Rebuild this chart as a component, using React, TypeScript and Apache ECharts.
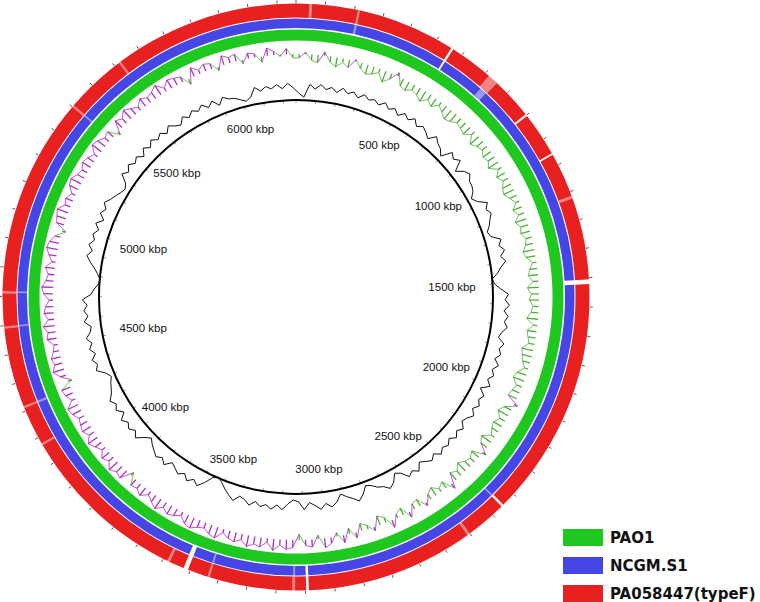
import React, { useEffect, useRef } from 'react';
import * as echarts from 'echarts';

// ---------------- data ----------------
const GENOME_KBP = 6264;

const labelKbp = [500, 1000, 1500, 2000, 2500, 3000, 3500, 4000, 4500, 5000, 5500, 6000];

const ringNames = ['PAO1', 'NCGM.S1', 'PA058447(typeF)'];

// BLAST rings: gaps (no hit) and pale (lower identity) regions, kbp
const pao1Gaps: number[][] = [];
const pao1Pale: number[][] = [];
const ncgmGaps = [[556, 563], [1506, 1522], [3088, 3097], [3508, 3524]];
const ncgmPale = [[212, 220], [722, 748], [2352, 2358], [3135, 3142], [3430, 3437], [4310, 4318], [4592, 4598], [4712, 4718], [5402, 5408]];
const pa05Gaps = [[556, 564], [896, 903], [1056, 1062], [1506, 1522], [2350, 2358], [3088, 3097], [3508, 3524]];
const pa05Pale = [[45, 55], [212, 220], [715, 752], [1215, 1225], [2500, 2510], [3135, 3145], [3430, 3438], [3575, 3585], [4170, 4178], [4310, 4318], [4590, 4598], [4710, 4718], [5400, 5408], [5618, 5626]];

// GC content (%) per window (240 windows over genome)
const gcContent = [
  63.0, 61.0, 67.6, 65.4, 67.9, 65.8, 67.3, 65.2, 68.0, 65.9,
  67.5, 65.3, 67.8, 66.0, 67.2, 65.5, 67.9, 65.7, 67.4, 65.1,
  67.7, 65.8, 68.1, 65.4, 67.3, 65.9, 64.0, 67.6, 65.5, 64.5,
  62.0, 67.4, 65.6, 67.8, 62.5, 66.0, 67.5, 65.3, 65.0, 64.0,
  61.5, 63.5, 67.7, 65.6, 67.2, 65.4, 64.0, 62.0, 63.0, 67.5,
  65.7, 67.9, 65.3, 67.4, 64.5, 62.5, 59.5, 60.5, 63.5, 67.2,
  65.6, 67.8, 65.2, 67.5, 65.9, 67.7, 65.4, 64.2, 67.6, 65.8,
  67.3, 65.1, 67.9, 65.6, 67.4, 65.3, 67.8, 63.8, 67.2, 65.7,
  67.6, 65.4, 67.9, 65.8, 64.6, 67.5, 65.5, 67.7, 65.2, 67.3,
  65.9, 68.0, 65.3, 67.4, 65.7, 64.0, 67.6, 65.5, 67.2, 63.5,
  62.0, 65.8, 67.7, 65.4, 64.5, 62.5, 61.5, 65.3, 67.8, 65.6,
  64.0, 62.0, 65.6, 67.5, 65.3, 67.9, 65.7, 64.0, 67.4, 63.5,
  62.5, 64.5, 67.6, 65.4, 67.8, 65.9, 67.3, 65.2, 67.7, 65.5,
  64.5, 67.5, 65.6, 63.5, 61.0, 59.0, 60.5, 64.5, 67.6, 65.5,
  67.9, 65.3, 67.4, 65.8, 64.4, 67.7, 65.5, 67.2, 65.6, 64.0,
  62.0, 64.5, 67.8, 65.4, 67.5, 65.7, 67.9, 64.5, 67.3, 65.6,
  67.6, 65.3, 64.0, 63.0, 61.5, 63.5, 67.4, 65.8, 67.7, 65.2,
  67.5, 65.6, 67.9, 65.4, 64.5, 67.6, 65.5, 67.3, 65.5, 67.8,
  63.5, 62.0, 60.0, 59.5, 61.0, 63.0, 65.5, 67.6, 65.4, 67.8,
  65.7, 67.3, 65.2, 67.7, 64.5, 67.5, 65.6, 67.9, 65.8, 64.5,
  63.0, 62.0, 63.5, 67.6, 65.4, 67.8, 65.5, 67.2, 64.5, 67.7,
  65.3, 67.9, 65.6, 67.4, 65.1, 67.8, 65.7, 64.5, 67.5, 65.4,
  67.7, 65.9, 68.0, 65.3, 67.6, 64.2, 67.4, 65.6, 65.0, 63.5,
  62.0, 63.5, 67.8, 65.5, 67.3, 65.8, 67.6, 65.4, 67.9, 65.6,
];

// GC skew (x100) per window, positive = G excess
const gcSkewPct = [
  2, -1, 3, 4, -2, 3, 5, 2, 4, -1, 3, 5, 4, 2, 6, 3, -2, 4, 5, 3,
  4, 6, 3, 5, 2, 4, 6, 5, 3, 4, 5, 2, 6, 4, 3, 5, 4, 6, 2, 5,
  3, 5, 6, 4, 2, 5, 3, 6, 4, 5, 3, 4, 6, 5, 2, 4, 5, 3, 6, 4,
  5, 3, 4, 6, 2, 5, 4, 3, 6, 5, 4, 2, 5, 6, 3, 4, 5, -2, 4, 6,
  3, 5, 4, 2, 6, 4, -2, 5, 3, 4, 6, 3, 5, -3, 4, 2, 5, 3, -2, 4,
  3, -3, 4, 2, -4, 3, 5, -2, 2, 4, -3, 3, -4, 2, -3, -5, 2, -4, -3, 3,
  -4, -5, -3, -6, -2, -5, -4, -6, -3, -5, -4, -2, -6, -5, -3, -4, -6, -5, -2, -4,
  -5, -3, -6, -4, -2, -5, -3, -4, 2, -5, -4, -6, -3, -5, -2, -4, -6, -3, -5, -4,
  -3, -5, -6, -2, -4, -5, 2, -3, -6, -4, -5, -3, -2, -5, -4, -6, -3, -5, -4, -2,
  -5, -6, -4, -3, -5, -2, -4, -6, -5, -3, 2, -4, -5, -6, -3, -4, -2, -5, -6, -4,
  -3, -5, -4, -2, -6, -5, -3, -4, 2, -5, -3, -6, -4, -2, -5, -3, -4, -6, -2, -5,
  -4, -3, 3, -5, -2, -4, -3, 2, -5, -3, -4, 2, -3, -2, 3, -4, -2, 1, -3, 2,
];

// ---------------- layout ----------------
const CX = 296;
const CY = 297;
const OUTER_R = 294;
const BACKBONE_R = 197;
const RING_RADII = [
  [256.5, 267.5],
  [269, 278.5],
  [279.5, 293.5],
];
const RING_COLORS = ['#1fc81f', '#4646e6', '#e82020'];
const SKEW_BASE = 243;
const SKEW_SCALE = 1.9;
const SKEW_POS = '#4fae37';
const SKEW_NEG = '#ac2fc2';
const GC_BASE = 211;
const GC_MEAN = 66.5;
const GC_SCALE = 2.0;
const LABEL_R = 180;

function buildRing(gaps: number[][], pale: number[][]) {
  const items: number[][] = [];
  let cur = 0;
  gaps.forEach(([s, e]) => {
    if (s > cur) items.push([cur, s, 0]);
    cur = e;
  });
  if (cur < GENOME_KBP) items.push([cur, GENOME_KBP, 0]);
  pale.forEach(([s, e]) => items.push([s, e, 1]));
  return items;
}

function angleOf(api: any, cx: number, cy: number, kbp: number) {
  const p = api.coord([100, kbp]);
  return Math.atan2(p[1] - cy, p[0] - cx);
}

function sectorShape(api: any, cs: any, s: number, e: number, r0: number, r: number) {
  const cx = cs.cx;
  const cy = cs.cy;
  const a0 = angleOf(api, cx, cy, s);
  let a1 = angleOf(api, cx, cy, e);
  if (a1 <= a0 + 1e-9) a1 += Math.PI * 2;
  const pr0 = api.coord([r0, s]);
  const pr1 = api.coord([r, s]);
  return {
    cx,
    cy,
    r0: Math.hypot(pr0[0] - cx, pr0[1] - cy),
    r: Math.hypot(pr1[0] - cx, pr1[1] - cy),
    startAngle: a0,
    endAngle: a1,
    clockwise: true,
  };
}

export default function App() {
  const ref = useRef<HTMLDivElement>(null);

  useEffect(() => {
    if (!ref.current) return;
    const chart = echarts.init(ref.current, undefined, { renderer: 'svg' });

    const ringData = [
      buildRing(pao1Gaps, pao1Pale),
      buildRing(ncgmGaps, ncgmPale),
      buildRing(pa05Gaps, pa05Pale),
    ];

    const step = GENOME_KBP / gcContent.length;
    const gcLine = gcContent.map((v, i) => [GC_BASE + (v - GC_MEAN) * GC_SCALE, i * step + step / 2]);
    gcLine.push([gcLine[0][0], GENOME_KBP + step / 2]);

    const skewData = gcSkewPct.map((v, i) => [i * step + step / 2, v]);
    const n = skewData.length;

    const ringSeries = ringNames.map((name, idx) => ({
      type: 'custom',
      name,
      coordinateSystem: 'polar',
      polarIndex: 0,
      silent: true,
      itemStyle: { color: RING_COLORS[idx] },
      data: ringData[idx],
      renderItem: (params: any, api: any) => {
        const cs = params.coordSys;
        const s = api.value(0);
        const e = api.value(1);
        const kind = api.value(2);
        const [ri, ro] = RING_RADII[idx];
        return {
          type: 'sector',
          shape: sectorShape(api, cs, s, e, ri, ro),
          style: { fill: kind === 1 ? 'rgba(255,255,255,0.45)' : RING_COLORS[idx] },
        };
      },
    }));

    const hiddenRadius = (polarIndex: number, max: number) => ({
      polarIndex,
      type: 'value',
      min: 0,
      max,
      axisLine: { show: false },
      axisTick: { show: false },
      axisLabel: { show: false },
      splitLine: { show: false },
      splitArea: { show: false },
    });

    const option: any = {
      animation: false,
      backgroundColor: '#ffffff',
      polar: [
        { center: [CX, CY], radius: OUTER_R },
        { center: [CX, CY], radius: BACKBONE_R },
      ],
      angleAxis: [
        {
          polarIndex: 0,
          type: 'value',
          min: 0,
          max: GENOME_KBP,
          interval: 100,
          startAngle: 90,
          clockwise: true,
          axisLine: { show: false },
          axisTick: { show: true, length: 3, lineStyle: { color: '#555', width: 1 } },
          axisLabel: { show: false },
          splitLine: { show: false },
          splitArea: { show: false },
        },
        {
          polarIndex: 1,
          type: 'value',
          min: 0,
          max: GENOME_KBP,
          interval: 100,
          startAngle: 90,
          clockwise: true,
          axisLine: { show: true, lineStyle: { color: '#000', width: 2 } },
          axisTick: { show: true, inside: true, length: 3, lineStyle: { color: '#999', width: 1 } },
          axisLabel: { show: false },
          splitLine: { show: false },
          splitArea: { show: false },
        },
      ],
      radiusAxis: [hiddenRadius(0, OUTER_R), hiddenRadius(1, 1)],
      legend: {
        data: ringNames,
        orient: 'vertical',
        left: 563,
        top: 529,
        padding: 0,
        itemWidth: 40,
        itemHeight: 17,
        itemGap: 11,
        icon: 'rect',
        selectedMode: false,
        textStyle: {
          fontFamily: 'DejaVu Sans',
          fontWeight: 'bold',
          fontSize: 15,
          color: '#111',
          padding: [0, 0, 0, 2],
        },
      },
      series: [
        ...ringSeries,
        {
          type: 'custom',
          name: 'GC skew',
          coordinateSystem: 'polar',
          polarIndex: 0,
          silent: true,
          data: skewData,
          renderItem: (params: any, api: any) => {
            const i = params.dataIndex;
            const pos = api.value(0);
            const v = api.value(1);
            const prev = skewData[(i - 1 + n) % n];
            const prevPos = i === 0 ? prev[0] - GENOME_KBP : prev[0];
            const r = SKEW_BASE - v * SKEW_SCALE;
            const rp = SKEW_BASE - prev[1] * SKEW_SCALE;
            const pBase = api.coord([SKEW_BASE, pos]);
            const pTip = api.coord([r, pos]);
            const pPrev = api.coord([rp, prevPos]);
            const color = v >= 0 ? SKEW_POS : SKEW_NEG;
            return {
              type: 'group',
              children: [
                {
                  type: 'line',
                  shape: { x1: pBase[0], y1: pBase[1], x2: pTip[0], y2: pTip[1] },
                  style: { stroke: color, lineWidth: 1.3 },
                },
                {
                  type: 'line',
                  shape: { x1: pPrev[0], y1: pPrev[1], x2: pTip[0], y2: pTip[1] },
                  style: { stroke: color, lineWidth: 0.8 },
                },
              ],
            };
          },
        },
        {
          type: 'line',
          name: 'GC content',
          coordinateSystem: 'polar',
          polarIndex: 0,
          symbol: 'none',
          silent: true,
          clip: false,
          lineStyle: { color: '#111', width: 1 },
          data: gcLine,
        },
        {
          type: 'custom',
          name: 'labels',
          coordinateSystem: 'polar',
          polarIndex: 0,
          silent: true,
          data: labelKbp.map((k) => [k]),
          renderItem: (params: any, api: any) => {
            const cs = params.coordSys;
            const k = api.value(0);
            const p = api.coord([LABEL_R, k]);
            const dx = p[0] - cs.cx;
            const dy = p[1] - cs.cy;
            const dist = Math.hypot(dx, dy);
            const ux = dx / dist;
            const uy = dy / dist;
            const txt = k + ' kbp';
            const hw = txt.length * 2.95;
            const hh = 6;
            const d = Math.min(hw / Math.max(Math.abs(ux), 1e-6), hh / Math.max(Math.abs(uy), 1e-6));
            return {
              type: 'text',
              x: p[0] - ux * d,
              y: p[1] - uy * d,
              style: {
                text: txt,
                align: 'center',
                verticalAlign: 'middle',
                fontFamily: 'Liberation Sans, Arial, sans-serif',
                fontSize: 11.5,
                fill: '#111',
              },
            };
          },
        },
      ],
    };

    chart.setOption(option);
    return () => chart.dispose();
  }, []);

  return (
    <div
      ref={ref}
      style={{ position: 'fixed', left: 0, top: 0, width: 760, height: 602, background: '#fff' }}
    />
  );
}
